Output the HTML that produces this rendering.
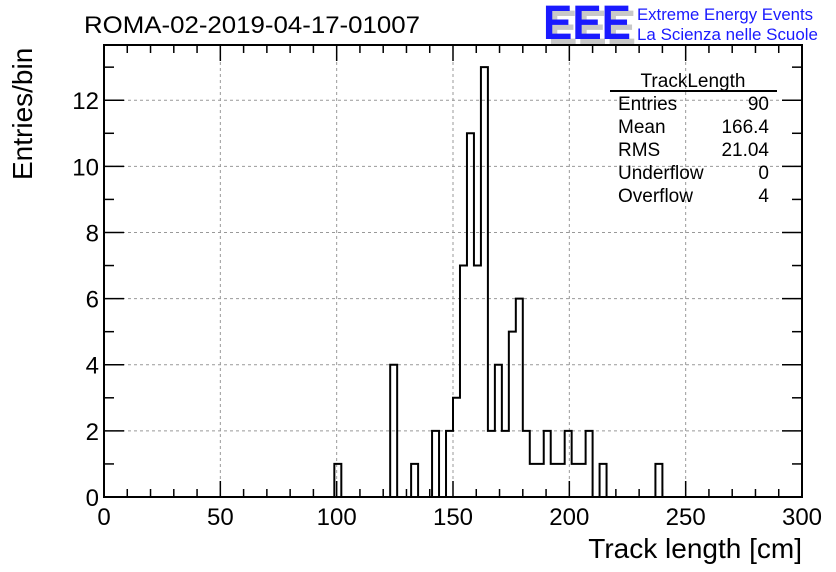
<!DOCTYPE html>
<html><head><meta charset="utf-8"><style>
body{margin:0;background:#fff;}
svg{display:block;font-family:"Liberation Sans",Arial,sans-serif;}
</style></head><body>
<svg id="chart" width="836" height="572" viewBox="0 0 836 572">
<rect width="836" height="572" fill="#fff"/>
<g id="grid"></g>
<g id="hist"></g>
<g id="axes"></g>
<text x="84" y="33" font-size="24" textLength="336" lengthAdjust="spacingAndGlyphs">ROMA-02-2019-04-17-01007</text>
<g>
<text x="548" y="44" font-size="48" fill="#c8c8c8" font-weight="bold" textLength="88" lengthAdjust="spacingAndGlyphs">EEE</text>
<text x="543" y="39" font-size="48" fill="#1a1aff" font-weight="bold" textLength="88" lengthAdjust="spacingAndGlyphs">EEE</text>
<text x="637" y="20" font-size="16.5" fill="#1a1aff" textLength="176" lengthAdjust="spacingAndGlyphs">Extreme Energy Events</text>
<text x="637" y="40" font-size="16.5" fill="#1a1aff" textLength="181" lengthAdjust="spacingAndGlyphs">La Scienza nelle Scuole</text>
</g>
<g font-size="19">
<text x="693" y="87" text-anchor="middle">TrackLength</text>
<line x1="610" y1="91" x2="777" y2="91" stroke="#000" stroke-width="2"/>
<text x="618" y="110">Entries</text><text x="769" y="110" text-anchor="end">90</text>
<text x="618" y="133">Mean</text><text x="769" y="133" text-anchor="end">166.4</text>
<text x="618" y="156">RMS</text><text x="769" y="156" text-anchor="end">21.04</text>
<text x="618" y="179">Underflow</text><text x="769" y="179" text-anchor="end">0</text>
<text x="618" y="202">Overflow</text><text x="769" y="202" text-anchor="end">4</text>
</g>
<text x="802" y="558" font-size="28" text-anchor="end">Track length [cm]</text>
<text transform="translate(32,180) rotate(-90)" font-size="28">Entries/bin</text>
</svg>
<script>
const binStarts=[99,123,132,141,147,150,153,156,159,162,165,168,171,174,177,180,183,186,189,192,195,198,201,204,207,213,237];
const binCounts=[1,4,1,2,2,3,7,11,7,13,2,4,2,5,6,2,1,1,2,1,1,2,1,1,2,1,1];
const xTicks=[0,50,100,150,200,250,300];
const yTicks=[0,2,4,6,8,10,12];
const binWidth=3;
const X0=104,X1=802,Y0=497,Y1=45,xMax=300,yMax=13.67;
const ns="http://www.w3.org/2000/svg";
function sx(v){return X0+v*(X1-X0)/xMax;}
function sy(v){return Y0-v*(Y0-Y1)/yMax;}
function mk(tag,attrs,parent){const e=document.createElementNS(ns,tag);for(const k in attrs)e.setAttribute(k,attrs[k]);parent.appendChild(e);return e;}
const grid=document.getElementById('grid'),axes=document.getElementById('axes'),hist=document.getElementById('hist');
xTicks.forEach(t=>{if(t>0&&t<xMax){const l=mk('line',{x1:sx(t),x2:sx(t),y1:Y0,y2:Y1,stroke:'#999','stroke-dasharray':'3,3'},grid);

}});
yTicks.forEach(t=>{if(t>0){const l=mk('line',{x1:X0,x2:X1,y1:sy(t),y2:sy(t),stroke:'#999','stroke-dasharray':'3,3'},grid);

}});
const counts=new Array(100).fill(0);
binStarts.forEach((s,i)=>{counts[Math.round(s/binWidth)]=binCounts[i];});
let d='M'+sx(0)+','+sy(0);
for(let i=0;i<counts.length;i++){d+=' L'+sx(i*binWidth)+','+sy(counts[i])+' L'+sx((i+1)*binWidth)+','+sy(counts[i]);}
d+=' L'+sx(xMax)+','+sy(0);
const p=mk('path',{d:d,fill:'none',stroke:'#000','stroke-width':2},hist);


const fr=mk('rect',{x:X0,y:Y1,width:X1-X0,height:Y0-Y1,fill:'none',stroke:'#000','stroke-width':2},axes);


for(let v=0;v<=xMax;v+=10){const major=v%50===0;const len=major?16:8;
mk('line',{x1:sx(v),x2:sx(v),y1:Y0,y2:Y0-len,stroke:'#000','stroke-width':1.5},axes);
mk('line',{x1:sx(v),x2:sx(v),y1:Y1,y2:Y1+len,stroke:'#000','stroke-width':1.5},axes);}
for(let v=0;v<=13;v+=1){const major=v%2===0;const len=major?20:10;
mk('line',{x1:X0,x2:X0+len,y1:sy(v),y2:sy(v),stroke:'#000','stroke-width':1.5},axes);
mk('line',{x1:X1,x2:X1-len,y1:sy(v),y2:sy(v),stroke:'#000','stroke-width':1.5},axes);}
xTicks.forEach(t=>{const e=mk('text',{x:sx(t),y:Y0+28,'font-size':24,'text-anchor':'middle'},axes);e.textContent=t;

});
yTicks.forEach(t=>{const e=mk('text',{x:X0-5,y:sy(t)+9,'font-size':24,'text-anchor':'end'},axes);e.textContent=t;

});
</script>
</body></html>
